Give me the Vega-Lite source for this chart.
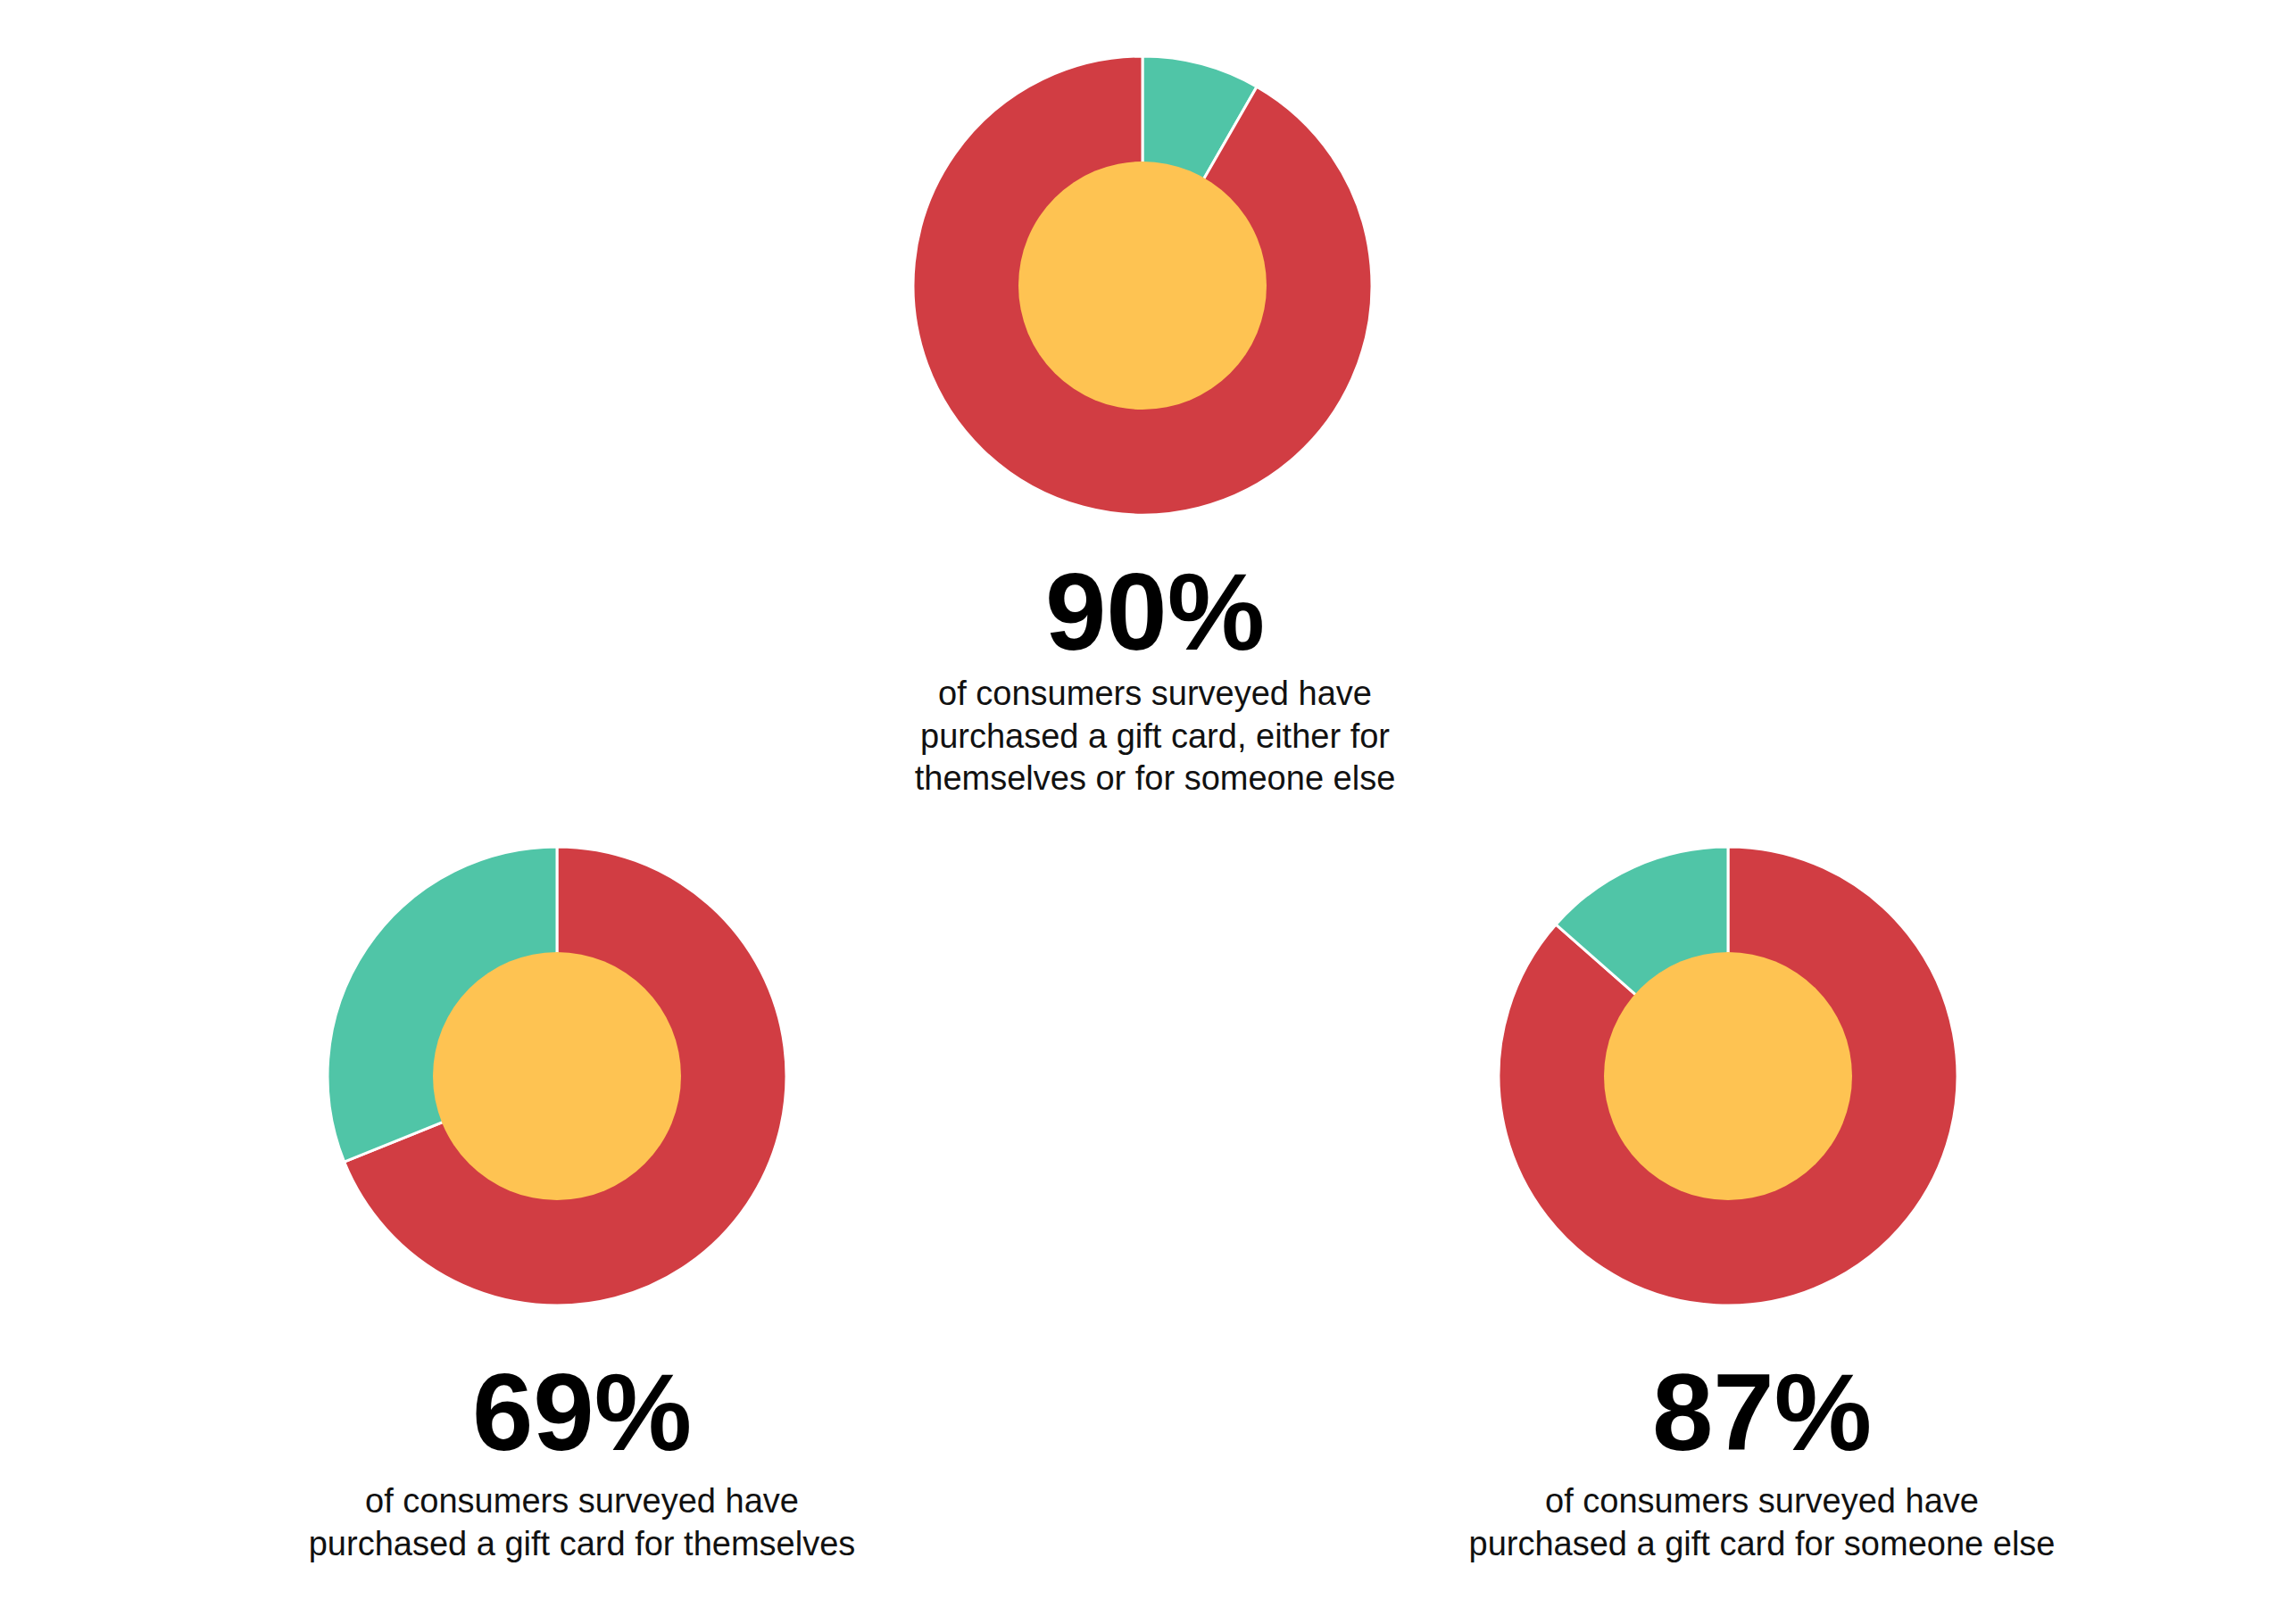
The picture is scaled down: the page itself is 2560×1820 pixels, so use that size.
{
  "$schema": "https://vega.github.io/schema/vega-lite/v6.json",
  "background": "white",
  "padding": {"left": 224, "top": 40, "right": 10, "bottom": 10},
  "config": {
    "view": {"stroke": null},
    "title": {
      "font": "Liberation Sans",
      "fontSize": 123,
      "fontWeight": "bold",
      "color": "#000000",
      "subtitleFont": "Liberation Sans",
      "subtitleFontSize": 38,
      "subtitleFontWeight": "normal",
      "subtitleColor": "#111111",
      "subtitleLineHeight": 47.5,
      "subtitlePadding": 6,
      "anchor": "middle",
      "orient": "bottom"
    }
  },
  "datasets": {
    "gift": [
      {"chart": "any", "segment": "not purchased", "pct": 8.3, "idx": 1},
      {"chart": "any", "segment": "purchased", "pct": 91.7, "idx": 2},
      {"chart": "self", "segment": "purchased", "pct": 68.9, "idx": 1},
      {"chart": "self", "segment": "not purchased", "pct": 31.1, "idx": 2},
      {"chart": "other", "segment": "purchased", "pct": 86.5, "idx": 1},
      {"chart": "other", "segment": "not purchased", "pct": 13.5, "idx": 2}
    ]
  },
  "spacing": 33,
  "center": true,
  "vconcat": [
    {
      "width": 800,
      "height": 560,
      "data": {"name": "gift"},
      "transform": [{"filter": "datum.chart === 'any'"}],
      "title": {
        "text": "90%",
        "subtitle": ["of consumers surveyed have", "purchased a gift card, either for", "themselves or for someone else"],
        "orient": "bottom",
        "dx": 14,
        "offset": 31
      },
      "layer": [
        {
          "mark": {"type": "arc", "innerRadius": 120, "outerRadius": 257, "stroke": "white", "strokeWidth": 3},
          "encoding": {
            "theta": {"field": "pct", "type": "quantitative", "stack": true},
            "color": {"field": "segment", "type": "nominal", "scale": {"domain": ["purchased", "not purchased"], "range": ["#D13D43", "#50C5A7"]}, "legend": null},
            "order": {"field": "idx", "type": "quantitative"}
          }
        },
        {
          "mark": {"type": "arc", "outerRadius": 139, "color": "#FEC352"},
          "encoding": {"theta": {"aggregate": "sum", "field": "pct", "type": "quantitative"}}
        }
      ]
    },
    {
      "spacing": 512,
      "hconcat": [
        {
          "width": 800,
          "height": 560,
          "data": {"name": "gift"},
          "transform": [{"filter": "datum.chart === 'self'"}],
          "title": {
            "text": "69%",
            "subtitle": ["of consumers surveyed have", "purchased a gift card for themselves"],
            "orient": "bottom",
            "dx": 28,
            "offset": 42,
            "subtitlePadding": 14
          },
          "layer": [
            {
              "mark": {"type": "arc", "innerRadius": 120, "outerRadius": 257, "stroke": "white", "strokeWidth": 3},
              "encoding": {
                "theta": {"field": "pct", "type": "quantitative", "stack": true},
                "color": {"field": "segment", "type": "nominal", "scale": {"domain": ["purchased", "not purchased"], "range": ["#D13D43", "#50C5A7"]}, "legend": null},
                "order": {"field": "idx", "type": "quantitative"}
              }
            },
            {
              "mark": {"type": "arc", "outerRadius": 139, "color": "#FEC352"},
              "encoding": {"theta": {"aggregate": "sum", "field": "pct", "type": "quantitative"}}
            }
          ]
        },
        {
          "width": 800,
          "height": 560,
          "data": {"name": "gift"},
          "transform": [{"filter": "datum.chart === 'other'"}],
          "title": {
            "text": "87%",
            "subtitle": ["of consumers surveyed have", "purchased a gift card for someone else"],
            "orient": "bottom",
            "dx": 38,
            "offset": 42,
            "subtitlePadding": 14
          },
          "layer": [
            {
              "mark": {"type": "arc", "innerRadius": 120, "outerRadius": 257, "stroke": "white", "strokeWidth": 3},
              "encoding": {
                "theta": {"field": "pct", "type": "quantitative", "stack": true},
                "color": {"field": "segment", "type": "nominal", "scale": {"domain": ["purchased", "not purchased"], "range": ["#D13D43", "#50C5A7"]}, "legend": null},
                "order": {"field": "idx", "type": "quantitative"}
              }
            },
            {
              "mark": {"type": "arc", "outerRadius": 139, "color": "#FEC352"},
              "encoding": {"theta": {"aggregate": "sum", "field": "pct", "type": "quantitative"}}
            }
          ]
        }
      ]
    }
  ]
}
